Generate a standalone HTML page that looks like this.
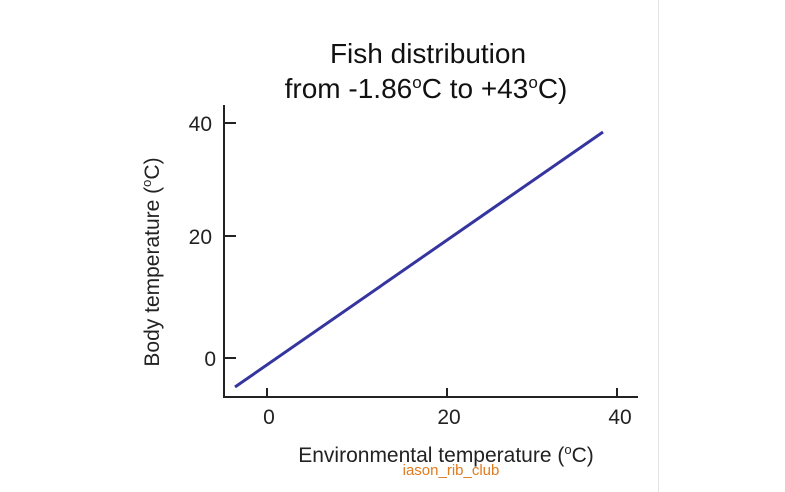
<!DOCTYPE html>
<html><head><style>
html,body{margin:0;padding:0;background:#fff;}
svg{display:block;font-family:"Liberation Sans",Arial,sans-serif;}
</style></head><body>
<svg width="785" height="492" viewBox="0 0 785 492">
<rect width="785" height="492" fill="#fff"/>
<line x1="658.5" y1="0" x2="658.5" y2="492" stroke="#e4e4e4" stroke-width="1"/>
<text x="428" y="63" font-size="28" text-anchor="middle" fill="#111">Fish distribution</text>
<text x="426" y="98" font-size="28" text-anchor="middle" fill="#111">from -1.86<tspan font-size="17" dy="-10">o</tspan><tspan dy="10">C to +43</tspan><tspan font-size="17" dy="-10">o</tspan><tspan dy="10">C)</tspan></text>
<g stroke="#222" stroke-width="2" fill="none">
<polyline points="224,105 224,397 638,397"/>
<line x1="224" y1="123" x2="236" y2="123"/>
<line x1="224" y1="236" x2="236" y2="236"/>
<line x1="224" y1="358" x2="236" y2="358"/>
<line x1="267" y1="397" x2="267" y2="388"/>
<line x1="447" y1="397" x2="447" y2="388"/>
<line x1="617" y1="397" x2="617" y2="388"/>
</g>
<g font-size="21" fill="#222">
<text x="212" y="131" text-anchor="end">40</text>
<text x="212" y="244" text-anchor="end">20</text>
<text x="216" y="366" text-anchor="end">0</text>
<text x="269" y="424" text-anchor="middle">0</text>
<text x="449" y="424" text-anchor="middle">20</text>
<text x="620" y="424" text-anchor="middle">40</text>
</g>
<text transform="translate(159,262) rotate(-90)" font-size="21" text-anchor="middle" fill="#222">Body temperature (<tspan font-size="13" dy="-8">o</tspan><tspan dy="8">C)</tspan></text>
<text x="446" y="462" font-size="21" text-anchor="middle" fill="#222">Environmental temperature (<tspan font-size="13" dy="-8">o</tspan><tspan dy="8">C)</tspan></text>
<text x="451" y="475" font-size="15" text-anchor="middle" fill="#e07b1f">iason_rib_club</text>
<line x1="235" y1="387" x2="603" y2="132" stroke="#3535a0" stroke-width="3"/>
</svg>
</body></html>
